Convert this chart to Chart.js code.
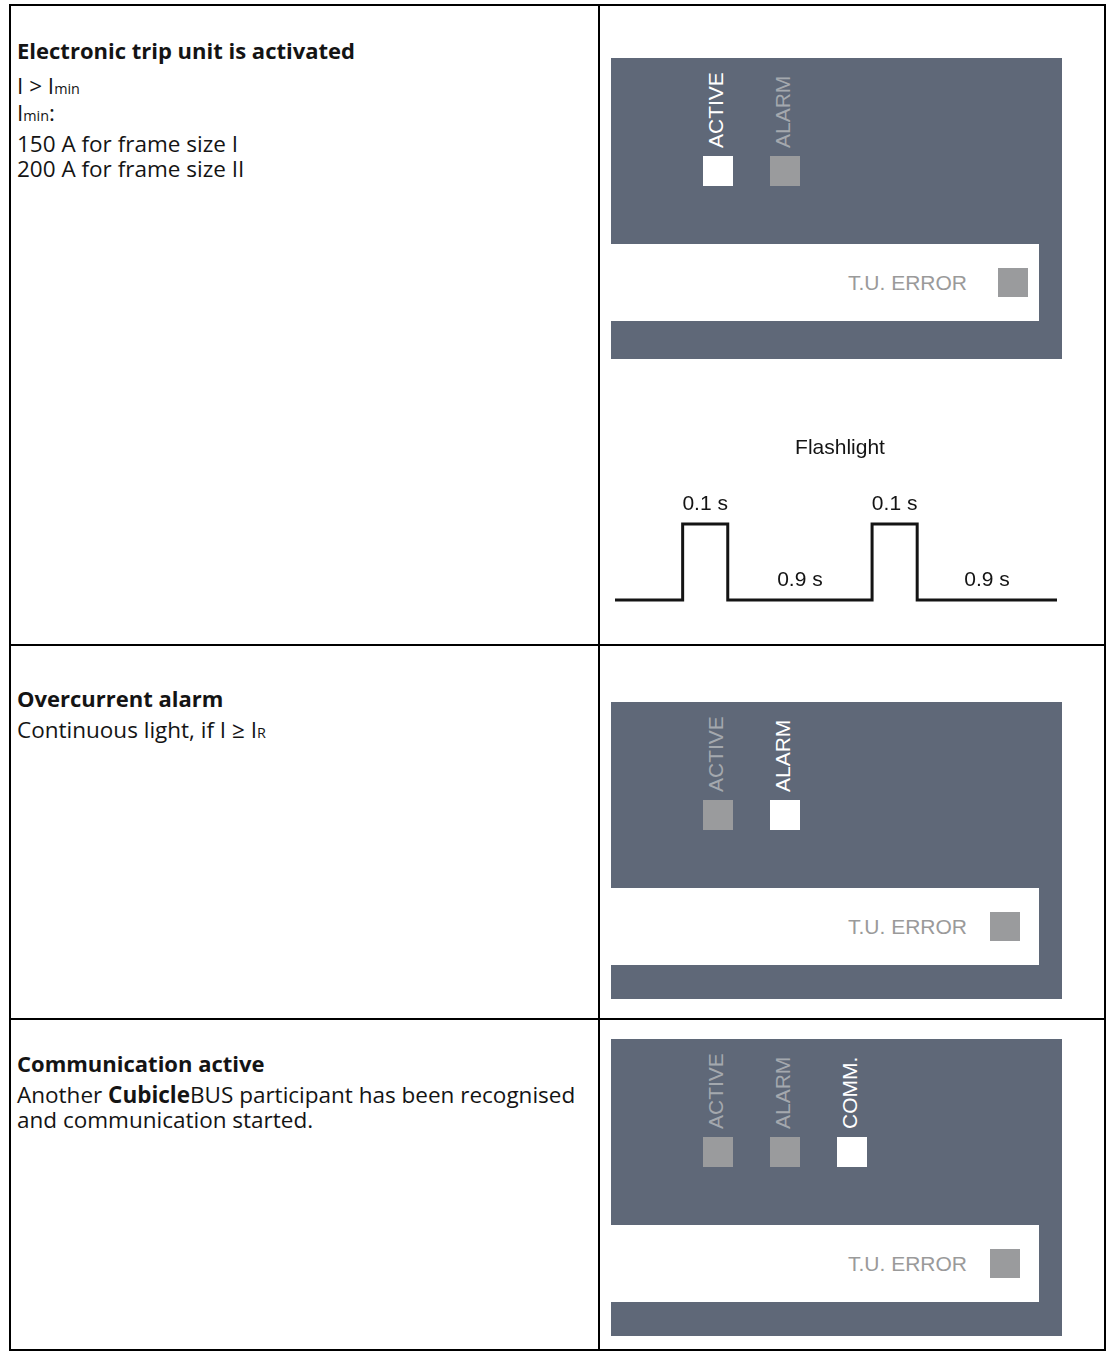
<!DOCTYPE html>
<html>
<head>
<meta charset="utf-8">
<script src="https://cdn.jsdelivr.net/npm/chart.js@4.4.1/dist/chart.umd.min.js"></script>
<style>
html,body{margin:0;padding:0;background:#fff;}
#root{position:relative;width:1112px;height:1352px;overflow:hidden;background:#fff;}
.ln{position:absolute;background:#000;}
.txt{position:absolute;white-space:nowrap;font-family:'Open Sans','Noto Sans',sans-serif;color:#141414;}
.txt b{font-weight:700;}
.sub{font-size:0.64em;line-height:1;}
.panel{position:absolute;background:#5f6878;}
.bar{position:absolute;background:#fff;}
.sq{position:absolute;}
.lab{position:absolute;white-space:nowrap;font-family:'Liberation Sans',Arial,sans-serif;font-size:21px;line-height:21px;transform-origin:0 0;transform:rotate(-90deg);}
.err{position:absolute;white-space:nowrap;font-family:'Liberation Sans',Arial,sans-serif;font-size:21px;line-height:21px;color:#9a9a9a;text-align:right;}
#flash{position:absolute;left:600px;top:400px;}
</style>
</head>
<body>
<div id="root"></div>
<script>
// ---------- data ----------
const rowTitles = ['Electronic trip unit is activated', 'Overcurrent alarm', 'Communication active'];
// each inner array = one paragraph block; lines inside a block are joined with line breaks
const rowBodies = [
  [['I &gt; I<span class="sub">min</span>'], ['I<span class="sub">min</span>:'], ['150 A for frame size I', '200 A for frame size II']],
  [['Continuous light, if I \u2265 I<span class="sub">R</span>']],
  [['Another <b>Cubicle</b>BUS participant has been recognised', 'and communication started.']]
];
const ledNames = ['ACTIVE', 'ALARM', 'COMM.'];
const ledStates = [[1, 0], [0, 1], [0, 0, 1]];   // 1 = lit
const errorLabel = 'T.U. ERROR';
const errorStates = [0, 0, 0];
const flashTitle = 'Flashlight';
const flashX = [0, 1.5, 2.5, 5.7, 6.7, 9.8];
const flashLevel = [0, 1, 0, 1, 0, 0];
const flashSegLabels = ['0.1 s', '0.9 s', '0.1 s', '0.9 s'];

// ---------- layout ----------
const root = document.getElementById('root');
function el(cls, css, html) {
  const d = document.createElement('div');
  d.className = cls;
  Object.assign(d.style, css);
  if (html !== undefined) d.innerHTML = html;
  root.appendChild(d);
  return d;
}
// table lines
const H = [4, 644, 1018, 1349];
H.forEach(y => el('ln', {left: '9px', top: y + 'px', width: '1097px', height: '2px'}));
[9, 598, 1104].forEach(x => el('ln', {left: x + 'px', top: '4px', width: '2px', height: '1347px'}));

// left texts (Open Sans metrics: ascent 1.069, descent 0.293)
const titleBase = [59, 707, 1072];
const bodyBase = [[94, 121, 152], [738], [1103]];
function placeText(html, x, baseline, bold, size, lh) {
  const off = (lh - 1.362 * size) / 2 + 1.069 * size;
  el('txt', {left: x + 'px', top: (baseline - off) + 'px', fontWeight: bold ? '700' : '400',
             fontSize: size + 'px', lineHeight: lh + 'px'}, html);
}
rowTitles.forEach((t, i) => {
  placeText(t, 17, titleBase[i], true, 22, 22);
  rowBodies[i].forEach((blk, j) => placeText(blk.join('<br>'), 17, bodyBase[i][j], false, 22.5, 25));
});

// LED panels
const panelTop = [58, 702, 1039];
const panelH = [301, 297, 297];
const LIT = '#ffffff', OFF_SQ = '#9a9b9d', OFF_TXT = '#a4a8ae';
ledStates.forEach((states, r) => {
  const top = panelTop[r];
  el('panel', {left: '611px', top: top + 'px', width: '451px', height: panelH[r] + 'px'});
  el('bar', {left: '611px', top: (top + 186) + 'px', width: '428px', height: '77px'});
  states.forEach((on, k) => {
    const sqL = 703 + 67 * k, sqT = top + 98;
    el('sq', {left: sqL + 'px', top: sqT + 'px', width: '30px', height: '30px', background: on ? LIT : OFF_SQ});
    el('lab', {left: (sqL + 2.2) + 'px', top: (sqT - 8) + 'px', color: on ? LIT : OFF_TXT}, ledNames[k]);
  });
  // T.U. ERROR
  el('err', {right: (1112 - 967) + 'px', top: (top + 232 - 17.8) + 'px'}, errorLabel);
  el('sq', {left: (r === 0 ? 998 : 990) + 'px', top: (top + 210) + 'px', width: '30px', height: '29px', background: errorStates[r] ? LIT : OFF_SQ});
});

// ---------- Flashlight waveform (Chart.js) ----------
const cv = document.createElement('canvas');
cv.id = 'flash';
cv.width = 504; cv.height = 240;
cv.style.width = '504px'; cv.style.height = '240px';
root.appendChild(cv);

const FONT = "21px 'Liberation Sans', Arial, sans-serif";
const labelPlugin = {
  id: 'flashLabels',
  afterDatasetsDraw(chart) {
    const {ctx, chartArea, scales} = chart;
    ctx.save();
    ctx.fillStyle = '#141414';
    ctx.font = FONT;
    ctx.textAlign = 'center';
    ctx.textBaseline = 'alphabetic';
    ctx.fillText(flashTitle, (chartArea.left + chartArea.right) / 2 + 4, chartArea.top - 70);
    flashSegLabels.forEach((s, i) => {
      const k = i + 1;
      const xm = (scales.x.getPixelForValue(flashX[k]) + scales.x.getPixelForValue(flashX[k + 1])) / 2;
      const y = scales.y.getPixelForValue(flashLevel[k]) - 14.5;
      ctx.fillText(s, xm, y);
    });
    ctx.restore();
  }
};

new Chart(cv.getContext('2d'), {
  type: 'line',
  data: {
    datasets: [{
      data: flashX.map((x, i) => ({x: x, y: flashLevel[i]})),
      stepped: 'before',
      borderColor: '#141414',
      borderWidth: 3,
      pointRadius: 0,
      fill: false,
      clip: false,
      borderCapStyle: 'butt',
      borderJoinStyle: 'miter'
    }]
  },
  options: {
    responsive: false,
    animation: false,
    events: [],
    layout: {padding: {left: 15, right: 47, top: 124, bottom: 40}},
    scales: {
      x: {type: 'linear', min: 0, max: 9.8, display: false},
      y: {type: 'linear', min: 0, max: 1, display: false}
    },
    plugins: {legend: {display: false}, tooltip: {enabled: false}, title: {display: false}}
  },
  plugins: [labelPlugin]
});
</script>
</body>
</html>
